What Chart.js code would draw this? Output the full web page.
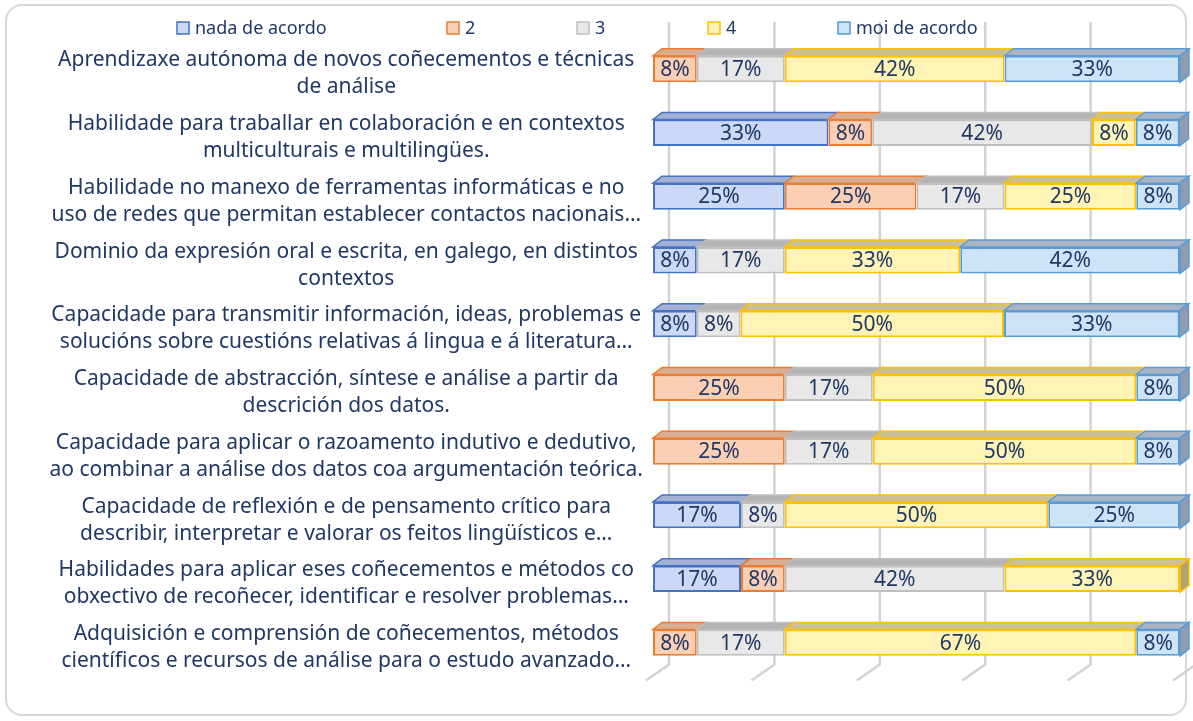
<!DOCTYPE html>
<html>
<head>
<meta charset="utf-8">
<script src="https://cdn.jsdelivr.net/npm/chart.js@4.4.0/dist/chart.umd.min.js"></script>
<style>
  html, body { margin: 0; padding: 0; background: #fff; }
  #wrap { position: relative; width: 1193px; height: 721px; }
</style>
</head>
<body>
<div id="wrap"><canvas id="chart-competencias"></canvas></div>
<script>
// competencias (top to bottom, as shown)
const categories = [
  ['Aprendizaxe autónoma de novos coñecementos e técnicas', 'de análise'],
  ['Habilidade para traballar en colaboración e en contextos', 'multiculturais e multilingües.'],
  ['Habilidade no manexo de ferramentas informáticas e no', 'uso de redes que permitan establecer contactos nacionais…'],
  ['Dominio da expresión oral e escrita, en galego, en distintos', 'contextos'],
  ['Capacidade para transmitir información, ideas, problemas e', 'solucións sobre cuestións relativas á lingua e á literatura…'],
  ['Capacidade de abstracción, síntese e análise a partir da', 'descrición dos datos.'],
  ['Capacidade para aplicar o razoamento indutivo e dedutivo,', 'ao combinar a análise dos datos coa argumentación teórica.'],
  ['Capacidade de reflexión e de pensamento crítico para', 'describir, interpretar e valorar os feitos lingüísticos e…'],
  ['Habilidades para aplicar eses coñecementos e métodos co', 'obxectivo de recoñecer, identificar e resolver problemas…'],
  ['Adquisición e comprensión de coñecementos, métodos', 'científicos e recursos de análise para o estudo avanzado…']
];

const seriesNames = ['nada de acordo', '2', '3', '4', 'moi de acordo'];

// % de respostas
const nadaDeAcordo = [0, 33.3, 25, 8.3, 8.3, 0, 0, 16.7, 16.7, 0];
const nivel2 = [8.3, 8.3, 25, 0, 0, 25, 25, 0, 8.3, 8.3];
const nivel3 = [16.7, 41.7, 16.7, 16.7, 8.3, 16.7, 16.7, 8.3, 41.7, 16.7];
const nivel4 = [41.7, 8.3, 25, 33.3, 50, 50, 50, 50, 33.3, 66.7];
const moiDeAcordo = [33.3, 8.3, 8.3, 41.7, 33.3, 8.3, 8.3, 25, 0, 8.3];

const seriesValues = [nadaDeAcordo, nivel2, nivel3, nivel4, moiDeAcordo];

const THEME = {
  text: '#1f3864',
  grid: '#d3d3d3',
  frame: '#d9d9d9',
  font: '"Noto Sans"',
  size: 21,
  legendSize: 18
};

const SERIES_STYLE = [
  { fill: '#cbd8f6', border: '#4472c4', top: '#a3b2d2', side: '#8193bb' },
  { fill: '#fbcfb4', border: '#ed7d31', top: '#d8ad92', side: '#c49176' },
  { fill: '#e8e8e8', border: '#bfbfbf', top: '#b4b4b4', side: '#9c9c9c' },
  { fill: '#fff3b5', border: '#ffc000', top: '#cbc194', side: '#b0a472' },
  { fill: '#cde3f8', border: '#5b9bd5', top: '#a9b5c3', side: '#8e9caf' }
];

const DEPTH_X = 9;
const DEPTH_Y = 7;

const chartFrame3d = {
  id: 'chartFrame3d',
  beforeDraw(chart) {
    const { ctx, width, height } = chart;
    ctx.save();
    ctx.fillStyle = '#fff';
    ctx.fillRect(0, 0, width, height);
    ctx.strokeStyle = THEME.frame;
    ctx.lineWidth = 2;
    ctx.beginPath();
    ctx.roundRect(6, 5, width - 13, height - 11, 16);
    ctx.stroke();
    ctx.restore();
  },
  beforeDatasetsDraw(chart) {
    // back wall gridlines + floor diagonals
    const { ctx, chartArea, scales: { x } } = chart;
    ctx.save();
    ctx.strokeStyle = THEME.grid;
    ctx.lineWidth = 2.5;
    x.ticks.forEach((t) => {
      const px = x.getPixelForValue(t.value);
      ctx.beginPath();
      ctx.moveTo(px + 16, chartArea.top - 15);
      ctx.lineTo(px + 16, chartArea.bottom - 10);
      ctx.lineTo(px - 7, chartArea.bottom + 6);
      ctx.stroke();
    });
    ctx.restore();
  },
  afterDatasetsDraw(chart) {
    const { ctx } = chart;
    const metas = chart.data.datasets.map((_, i) => chart.getDatasetMeta(i));
    ctx.save();
    ctx.lineWidth = 1.5;
    categories.forEach((_, j) => {
      let last = -1;
      metas.forEach((meta, i) => {
        const v = seriesValues[i][j];
        if (!v) return;
        last = i;
        const el = meta.data[j];
        const st = SERIES_STYLE[i];
        const x0 = Math.min(el.base, el.x), x1 = Math.max(el.base, el.x);
        const top = el.y - el.height / 2;
        ctx.beginPath();
        ctx.moveTo(x0, top);
        ctx.lineTo(x0 + DEPTH_X, top - DEPTH_Y);
        ctx.lineTo(x1 + DEPTH_X, top - DEPTH_Y);
        ctx.lineTo(x1, top);
        ctx.closePath();
        ctx.fillStyle = st.top;
        ctx.fill();
        ctx.strokeStyle = st.border;
        ctx.stroke();
      });
      if (last >= 0) {
        const el = metas[last].data[j];
        const st = SERIES_STYLE[last];
        const x1 = Math.max(el.base, el.x);
        const top = el.y - el.height / 2, bottom = el.y + el.height / 2;
        ctx.beginPath();
        ctx.moveTo(x1, top);
        ctx.lineTo(x1 + DEPTH_X, top - DEPTH_Y);
        ctx.lineTo(x1 + DEPTH_X, bottom - DEPTH_Y);
        ctx.lineTo(x1, bottom);
        ctx.closePath();
        ctx.fillStyle = st.side;
        ctx.fill();
        ctx.strokeStyle = st.border;
        ctx.stroke();
      }
    });

    // data labels
    ctx.fillStyle = THEME.text;
    ctx.font = `${THEME.size}px ${THEME.font}`;
    ctx.textAlign = 'center';
    ctx.textBaseline = 'middle';
    metas.forEach((meta, i) => {
      meta.data.forEach((el, j) => {
        const v = seriesValues[i][j];
        if (!v) return;
        ctx.fillText(`${Math.round(v)}%`, (el.base + el.x) / 2, el.y + 1);
      });
    });
    ctx.restore();
  },
  afterDraw(chart) {
    // legend row
    const { ctx } = chart;
    const legendX = [177, 447, 577, 708, 838];
    const y = 28;
    ctx.save();
    ctx.font = `${THEME.legendSize}px ${THEME.font}`;
    ctx.textAlign = 'left';
    ctx.textBaseline = 'middle';
    seriesNames.forEach((name, i) => {
      const st = SERIES_STYLE[i];
      ctx.fillStyle = st.fill;
      ctx.fillRect(legendX[i], y - 6, 12, 12);
      ctx.strokeStyle = st.border;
      ctx.lineWidth = 1.5;
      ctx.strokeRect(legendX[i], y - 6, 12, 12);
      ctx.fillStyle = THEME.text;
      ctx.fillText(name, legendX[i] + 18, y + 1);
    });
    ctx.restore();
  }
};

const ctxC = document.getElementById('chart-competencias');
new Chart(ctxC, {
  type: 'bar',
  data: {
    labels: categories,
    datasets: seriesNames.map((name, i) => ({
      label: name,
      data: seriesValues[i],
      backgroundColor: SERIES_STYLE[i].fill,
      borderColor: SERIES_STYLE[i].border,
      borderWidth: 2,
      borderSkipped: false,
      categoryPercentage: 1,
      barPercentage: 0.415
    }))
  },
  options: {
    indexAxis: 'y',
    responsive: true,
    maintainAspectRatio: false,
    animation: false,
    layout: { padding: { top: 32, right: 13, bottom: 38.5, left: 0 } },
    plugins: {
      legend: { display: false },
      tooltip: { enabled: false }
    },
    scales: {
      x: {
        stacked: true,
        min: 0,
        max: 100,
        ticks: { display: false, stepSize: 20 },
        grid: { display: false },
        border: { display: false }
      },
      y: {
        stacked: true,
        afterFit: (scale) => { scale.width = 653; },
        ticks: {
          color: THEME.text,
          font: { family: THEME.font, size: THEME.size, lineHeight: 1.29 },
          crossAlign: 'center',
          padding: 10,
          labelOffset: 5,
          autoSkip: false
        },
        grid: { display: false, drawTicks: false },
        border: { display: false }
      }
    }
  },
  plugins: [chartFrame3d]
});
</script>
</body>
</html>
